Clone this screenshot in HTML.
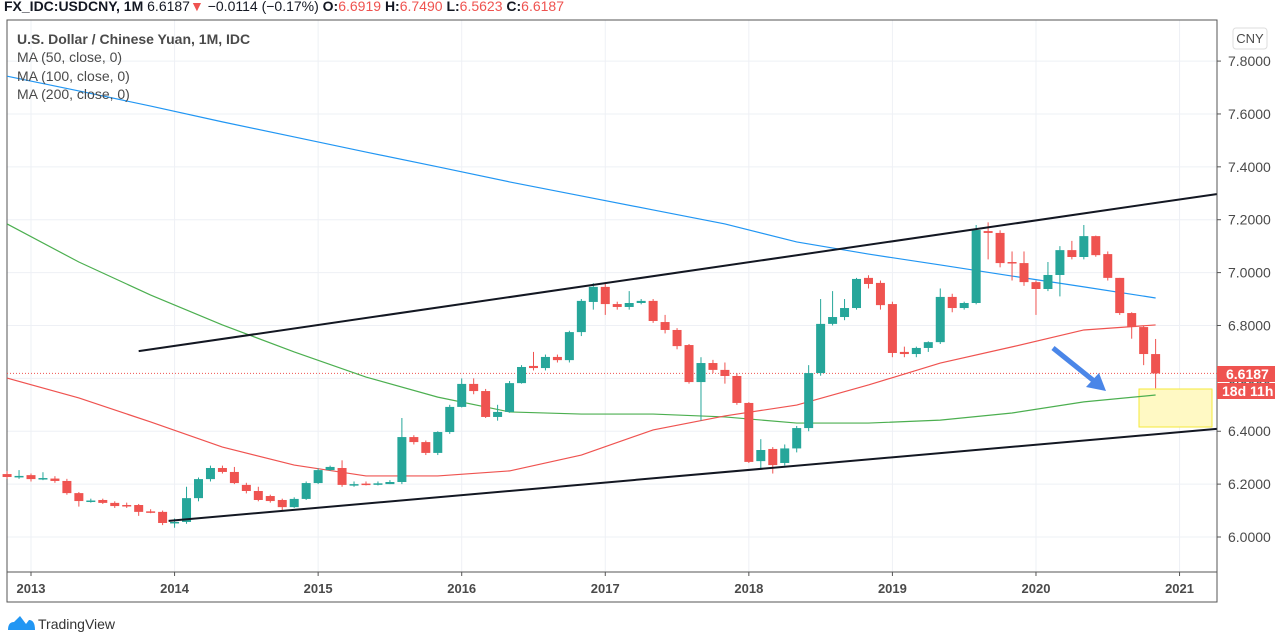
<!DOCTYPE html>
<html><head><meta charset="utf-8"><style>
body{margin:0;background:#fff;width:1280px;height:644px;overflow:hidden;font-family:"Liberation Sans",sans-serif}
#hdr{position:absolute;left:4px;top:-2px;font-size:14px;color:#131722;white-space:nowrap}
#hdr b{font-weight:bold}.r{color:#ef5350}
svg{position:absolute;left:0;top:0}
</style></head><body>
<div id="hdr"><b>FX_IDC:USDCNY, 1M</b> 6.6187<span class="r">▼</span> −0.0114 (−0.17%) <b>O:</b><span class="r">6.6919</span> <b>H:</b><span class="r">6.7490</span> <b>L:</b><span class="r">6.5623</span> <b>C:</b><span class="r">6.6187</span></div>
<svg id="chart" width="1280" height="644"></svg>
<script>
const opens=[6.238,6.227,6.234,6.219,6.221,6.212,6.166,6.134,6.140,6.129,6.121,6.121,6.097,6.095,6.053,6.057,6.147,6.219,6.261,6.246,6.197,6.174,6.155,6.140,6.113,6.144,6.204,6.253,6.261,6.197,6.202,6.200,6.200,6.208,6.378,6.359,6.318,6.397,6.492,6.579,6.552,6.454,6.473,6.582,6.647,6.639,6.681,6.669,6.775,6.889,6.946,6.881,6.870,6.885,6.893,6.813,6.783,6.726,6.586,6.658,6.632,6.609,6.507,6.287,6.333,6.280,6.335,6.412,6.620,6.806,6.832,6.866,6.980,6.961,6.881,6.700,6.692,6.715,6.737,6.908,6.866,6.885,7.157,7.150,7.040,7.036,6.964,6.938,6.991,7.085,7.059,7.138,7.070,6.980,6.847,6.794,6.6919];
const closes=[6.227,6.231,6.219,6.223,6.212,6.166,6.136,6.138,6.129,6.117,6.118,6.095,6.093,6.053,6.057,6.147,6.219,6.261,6.246,6.204,6.174,6.140,6.136,6.113,6.144,6.204,6.253,6.265,6.197,6.200,6.200,6.203,6.208,6.378,6.359,6.318,6.397,6.492,6.579,6.552,6.454,6.473,6.582,6.643,6.639,6.681,6.669,6.775,6.893,6.946,6.881,6.870,6.885,6.893,6.817,6.783,6.722,6.586,6.658,6.632,6.609,6.507,6.284,6.329,6.272,6.335,6.412,6.620,6.806,6.832,6.866,6.976,6.957,6.877,6.696,6.692,6.715,6.737,6.908,6.866,6.885,7.161,7.150,7.036,7.036,6.964,6.938,6.991,7.085,7.059,7.138,7.066,6.980,6.847,6.794,6.692,6.6187];
const highs=[6.25,6.253,6.24,6.245,6.23,6.22,6.17,6.145,6.145,6.135,6.13,6.125,6.105,6.10,6.07,6.19,6.225,6.27,6.27,6.265,6.205,6.19,6.16,6.145,6.15,6.21,6.26,6.27,6.29,6.21,6.21,6.21,6.215,6.45,6.385,6.365,6.40,6.50,6.60,6.60,6.56,6.50,6.59,6.65,6.70,6.69,6.69,6.78,6.90,6.96,6.96,6.89,6.93,6.90,6.90,6.84,6.79,6.73,6.68,6.67,6.66,6.62,6.51,6.37,6.34,6.35,6.42,6.65,6.90,6.93,6.90,6.98,6.99,6.97,6.89,6.72,6.72,6.74,6.94,6.92,6.89,7.18,7.19,7.16,7.08,7.08,6.97,7.04,7.10,7.12,7.18,7.14,7.08,6.98,6.85,6.80,6.749];
const lows=[6.22,6.22,6.21,6.215,6.205,6.16,6.115,6.13,6.125,6.11,6.11,6.08,6.09,6.045,6.035,6.05,6.135,6.21,6.24,6.20,6.165,6.135,6.13,6.10,6.11,6.14,6.20,6.25,6.19,6.19,6.195,6.195,6.20,6.20,6.35,6.31,6.31,6.39,6.49,6.54,6.45,6.44,6.47,6.58,6.63,6.63,6.66,6.66,6.76,6.86,6.84,6.86,6.86,6.88,6.81,6.77,6.71,6.58,6.44,6.62,6.58,6.50,6.28,6.26,6.24,6.27,6.32,6.40,6.61,6.80,6.82,6.86,6.94,6.86,6.68,6.68,6.68,6.70,6.73,6.85,6.86,6.88,7.05,7.02,6.97,6.95,6.84,6.93,6.91,7.05,7.05,7.06,6.97,6.84,6.75,6.65,6.5623];
const maIdx=[0,6,12,18,24,30,36,42,48,54,60,66,72,78,84,90,96];
const ma50=[6.601,6.526,6.435,6.340,6.272,6.231,6.231,6.250,6.310,6.405,6.458,6.499,6.575,6.658,6.719,6.783,6.802];
const ma100=[7.184,7.040,6.915,6.802,6.700,6.605,6.529,6.473,6.465,6.465,6.454,6.431,6.431,6.442,6.469,6.511,6.537];
const ma200=[7.743,7.687,7.630,7.570,7.513,7.456,7.400,7.343,7.290,7.237,7.184,7.116,7.070,7.029,6.987,6.946,6.904];
const priceTicks=[6.0,6.2,6.4,6.6,6.8,7.0,7.2,7.4,7.6,7.8];
const yearLabels=["2013","2014","2015","2016","2017","2018","2019","2020","2021"];
const upperTrend=[[11.0,6.703],[101.1,7.297]];
const lowerTrend=[[13.5,6.061],[101.1,6.409]];

const NS="http://www.w3.org/2000/svg";
const svg=document.getElementById('chart');
const X=i=>31+(i-2)*11.964;
const Y=v=>537-(v-6)*264.4;
function el(t,a,p){const e=document.createElementNS(NS,t);for(const k in a)e.setAttribute(k,a[k]);(p||svg).appendChild(e);return e;}
function txt(s,a){const e=el('text',a);e.textContent=s;return e;}
const L=7,R=1217,T=20,B=572,BB=602;
priceTicks.forEach(v=>{const g=el('line',{x1:L,x2:R,y1:Y(v),y2:Y(v),stroke:'#eef0f5','stroke-width':1});

});
yearLabels.forEach((s,k)=>{const x=X(2+12*k);const g=el('line',{x1:x,x2:x,y1:T,y2:B,stroke:'#eef0f5'});


el('line',{x1:x,x2:x,y1:B,y2:B+4,stroke:'#555'});
const t=txt(s,{x:x,y:593,'text-anchor':'middle','font-size':13,'font-weight':'bold',fill:'#4a4a4a'});

});
el('path',{d:`M${L} ${T}H${R}V${BB}H${L}Z`,fill:'none',stroke:'#555'});
el('line',{x1:L,x2:R,y1:B,y2:B,stroke:'#555'});
priceTicks.forEach(v=>{el('line',{x1:R,x2:R+4,y1:Y(v),y2:Y(v),stroke:'#555'});
const t=txt(v.toFixed(4),{x:1228,y:Y(v)+5,'font-size':14,fill:'#4a4a4a'});

});
const pl=el('line',{x1:L,x2:R,y1:Y(6.6187),y2:Y(6.6187),stroke:'#ef5350','stroke-dasharray':'1,2'});


const yb=el('rect',{x:1139,y:389,width:73,height:38,fill:'#fff9c4',stroke:'#f5e93a','stroke-width':1});


function ma(arr,col,name){const p=el('polyline',{points:maIdx.map((i,k)=>X(i)+','+Y(arr[k])).join(' '),fill:'none',stroke:col,'stroke-width':1.2});

}
ma(ma200,'#2196f3','ma200-line');ma(ma100,'#4caf50','ma100-line');ma(ma50,'#ef5350','ma50-line');
opens.forEach((o,i)=>{const c=closes[i];const col=c>=o?'#26a69a':'#ef5350';const x=X(i);
const g=el('g',{});


el('line',{x1:x,x2:x,y1:Y(highs[i]),y2:Y(lows[i]),stroke:col,'stroke-width':1},g);
const top=Y(Math.max(o,c)),h=Math.max(1.5,Math.abs(Y(o)-Y(c)));
el('rect',{x:x-4.5,y:top,width:9,height:h,fill:col},g);});
[[upperTrend,'upper-trendline'],[lowerTrend,'lower-trendline']].forEach(([t,n])=>{const l=el('line',{x1:X(t[0][0]),y1:Y(t[0][1]),x2:X(t[1][0]),y2:Y(t[1][1]),stroke:'#131722','stroke-width':2});

});
const ar=el('g',{});


el('line',{x1:1053,y1:348,x2:1094,y2:381,stroke:'#4a86e8','stroke-width':5},ar);
el('polygon',{points:'1106,391 1086,387 1099,373',fill:'#4a86e8'},ar);
const pb=el('rect',{x:R,y:366,width:58,height:16,fill:'#ef5350'});


txt('6.6187',{x:1226,y:379,'font-size':14,'font-weight':'bold',fill:'#fff'});
el('rect',{x:R,y:383,width:58,height:16,fill:'#ef5350'});
txt('18d 11h',{x:1222,y:396,'font-size':14,'font-weight':'bold',fill:'#fff'});
const cb=el('rect',{x:1233,y:28,width:34,height:21,rx:3,fill:'#fff',stroke:'#ddd'});


txt('CNY',{x:1250,y:43,'font-size':13,fill:'#4a4a4a','text-anchor':'middle'});
const lg=[['U.S. Dollar / Chinese Yuan, 1M, IDC',44,'bold','series-title'],['MA (50, close, 0)',62,'normal','legend-ma50'],['MA (100, close, 0)',81,'normal','legend-ma100'],['MA (200, close, 0)',99,'normal','legend-ma200']];
lg.forEach(([s,y,w,n])=>{const t=txt(s,{x:17,y:y,'font-size':14,'font-weight':w,fill:'#4a4a4a'});

});
const lo=el('g',{});


el('path',{d:'M8 630 Q8 622 14 622 L20 616 L26 624 L29 620 Q35 620 35 630 Z',fill:'#2196f3'},lo);
txt('TradingView',{x:38,y:629,'font-size':14,fill:'#333'});
</script>
</body></html>
